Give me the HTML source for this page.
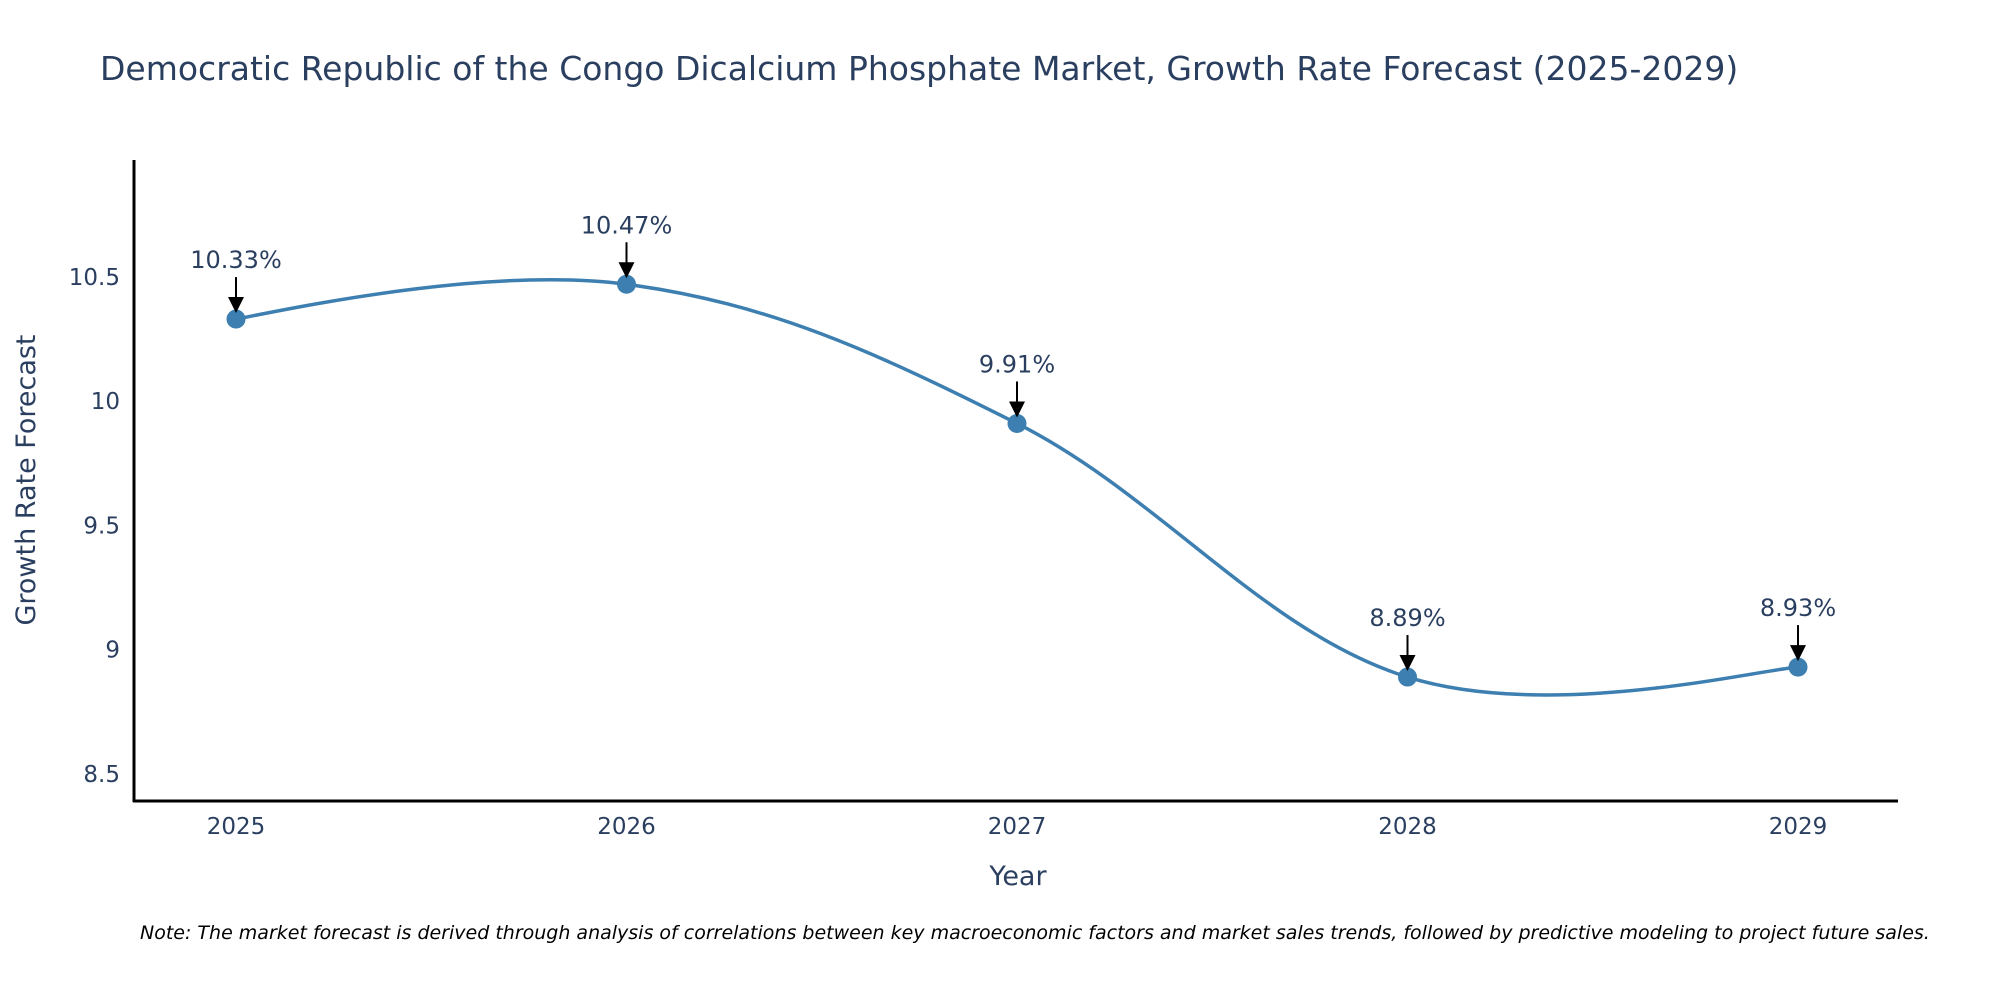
<!DOCTYPE html>
<html><head><meta charset="utf-8"><style>
html,body{margin:0;padding:0;background:#fff;overflow:hidden;}
svg text{font-family:"DejaVu Sans","Liberation Sans",sans-serif;}
</style></head><body>
<svg id="chart" width="2000" height="1000" viewBox="0 0 2000 1000" xmlns="http://www.w3.org/2000/svg">
<rect width="2000" height="1000" fill="#fff"/>
<text x="100" y="80" font-size="33" fill="#2a3f5f">Democratic Republic of the Congo Dicalcium Phosphate Market, Growth Rate Forecast (2025-2029)</text>
<line x1="134" y1="160" x2="134" y2="802" stroke="#000" stroke-width="3"/>
<line x1="133" y1="801" x2="1898" y2="801" stroke="#000" stroke-width="3"/>
<g id="yticks"></g><g id="xticks"></g>
<path id="line" fill="none" stroke="#3d7fb0" stroke-width="3.5"/>
<g id="points"></g><g id="annots"></g>
<text transform="translate(35,480) rotate(-90)" text-anchor="middle" font-size="27" fill="#2a3f5f">Growth Rate Forecast</text>
<text x="1018" y="885" text-anchor="middle" font-size="27" fill="#2a3f5f">Year</text>
<text x="140" y="939" font-size="19" font-style="italic" fill="#000">Note: The market forecast is derived through analysis of correlations between key macroeconomic factors and market sales trends, followed by predictive modeling to project future sales.</text>
<defs><marker id="ah" markerWidth="10" markerHeight="10" refX="8" refY="4" orient="auto" markerUnits="userSpaceOnUse"><path d="M0,-4 L9,4 L0,12 z" transform="translate(0,0)" fill="#000"/></marker></defs>
</svg>
<script>
const years = ["2025","2026","2027","2028","2029"];
const values = [10.33, 10.47, 9.91, 8.89, 8.93];
const labels = ["10.33%","10.47%","9.91%","8.89%","8.93%"];
const yTicks = [8.5, 9, 9.5, 10, 10.5];
const yTickLabels = ["8.5","9","9.5","10","10.5"];
const NS="http://www.w3.org/2000/svg";
function xs(i){return 236 + i*390.5;}
function ys(v){return 774 - (v-8.5)*248.6;}
function mk(tag,attrs,parent,text){const e=document.createElementNS(NS,tag);for(const k in attrs)e.setAttribute(k,attrs[k]);if(text!==undefined)e.textContent=text;document.getElementById(parent).appendChild(e);return e;}
yTicks.forEach((t,i)=>{
 const e=mk('text',{x:120,y:ys(t)+8,'text-anchor':'end','font-size':23,fill:'#2a3f5f'},'yticks',yTickLabels[i]);
 
 
});
years.forEach((y,i)=>{
 const e=mk('text',{x:xs(i),y:834,'text-anchor':'middle','font-size':23,fill:'#2a3f5f'},'xticks',y);
 
 
});
const P=values.map((v,i)=>[xs(i),ys(v)]);
let d=`M${P[0][0]},${P[0][1]}`;
const s=0.55;
for(let i=0;i<P.length-1;i++){
 const p0=P[Math.max(0,i-1)],p1=P[i],p2=P[i+1],p3=P[Math.min(P.length-1,i+2)];
 const c1=[p1[0]+(p2[0]-p0[0])*s/3*(i===0?0.5:1),p1[1]+(p2[1]-p0[1])*s/3];
 const c2=[p2[0]-(p3[0]-p1[0])*s/3*(i===P.length-2?0.5:1),p2[1]-(p3[1]-p1[1])*s/3];
 d+=` C${c1[0]},${c1[1]} ${c2[0]},${c2[1]} ${p2[0]},${p2[1]}`;
}
document.getElementById('line').setAttribute('d',d);
P.forEach((p,i)=>{
 const c=mk('circle',{cx:p[0],cy:p[1],r:9.5,fill:'#3d7fb0'},'points');
 
 
 const a=mk('line',{x1:p[0],y1:p[1]-42,x2:p[0],y2:p[1]-20,stroke:'#000','stroke-width':2},'annots');
 
 
 const h=mk('path',{d:`M${p[0]-8},${p[1]-22} L${p[0]+8},${p[1]-22} L${p[0]},${p[1]-6} z`,fill:'#000'},'annots');
 
 
 const t=mk('text',{x:p[0],y:p[1]-51,'text-anchor':'middle','font-size':24,fill:'#2a3f5f'},'annots',labels[i]);
 
 
});
</script>
</body></html>
